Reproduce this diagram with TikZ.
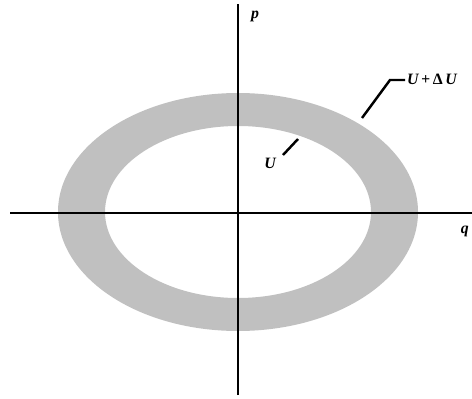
\documentclass[tikz,border=0pt]{standalone}
\usepackage{fontspec}
\setmainfont{Liberation Serif}
\usetikzlibrary{positioning, calc}
\definecolor{ringcolor}{RGB}{192,192,192}
\tikzset{
    axis/.style={line width=1.1pt, black},
    leader/.style={line width=1.4pt, black},
    lbl/.style={inner sep=1pt, font=\small\bfseries\itshape}
}

\begin{document}
\begin{tikzpicture}[x=0.02cm, y=-0.02cm]
    \useasboundingbox (0,0) rectangle (472,398);

    % ring between the two energy surfaces
    \fill[ringcolor, even odd rule] (238,212) ellipse [x radius=180, y radius=119]
                                    (238,212) ellipse [x radius=133, y radius=86];

    % axes
    \coordinate (pTop) at (238,4);
    \coordinate (pBot) at (238,395);
    \coordinate (qLeft) at (10,213);
    \coordinate (qRight) at (472,213);
    \draw[axis] (pBot) -- (pTop);
    \draw[axis] (qLeft) -- (qRight);
    \node[lbl] (plabel) at (255,16) {p};
    \node[lbl, anchor=east] (qlabel) at (471,231) {q};

    % labels with leaders
    \node[lbl, anchor=west] (outer) at (405,79) {U\,+\,{\upshape Δ}\,U};
    \coordinate (outerFoot) at (362,118);
    \coordinate (outerBend) at (390,80);
    \draw[leader] (outerFoot) -- (outerBend) -- (outer.west |- outerBend);

    \node[lbl] (inner) at (270,163) {U};
    \coordinate (innerStart) at (283,155);
    \coordinate (innerFoot) at (298,139);
    \draw[leader] (innerStart) -- (innerFoot);

\end{tikzpicture}
\end{document}
